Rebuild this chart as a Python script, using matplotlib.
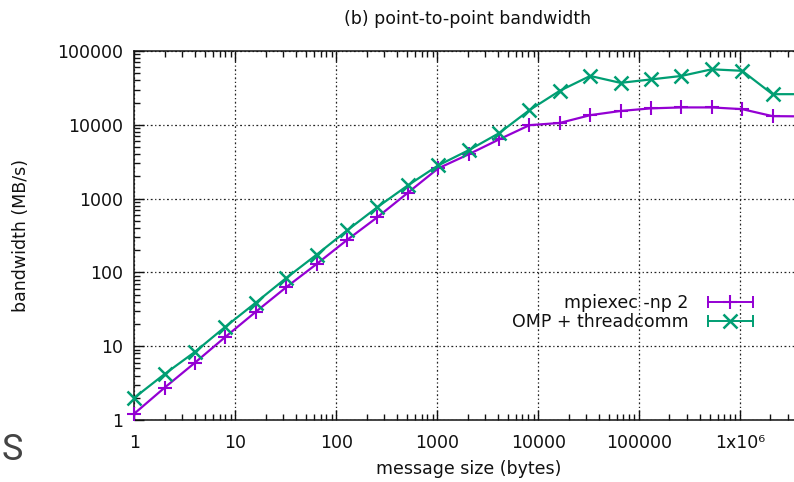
import numpy as np
import matplotlib
matplotlib.use('Agg')
import matplotlib.pyplot as plt
from matplotlib.lines import Line2D
from matplotlib.legend_handler import HandlerLine2D, HandlerTuple
from matplotlib.ticker import LogLocator, NullFormatter, FixedLocator, FixedFormatter

# message sizes in bytes (powers of two)
sizes = [1, 2, 4, 8, 16, 32, 64, 128, 256, 512, 1024, 2048, 4096, 8192, 16384,
         32768, 65536, 131072, 262144, 524288, 1048576, 2097152, 4194304]

# bandwidth in MB/s
mpi_bw = [1.22, 2.75, 6.0, 13.4, 29.3, 63, 130, 275, 560, 1200, 2570, 3980, 6330,
          9880, 10600, 13500, 15400, 16700, 17200, 17200, 16300, 13100, 13000]
omp_bw = [2.0, 4.2, 8.4, 18.4, 39, 84, 174, 370, 767, 1510, 2820, 4520, 7690,
          15800, 28900, 45900, 37000, 41200, 45900, 56500, 53900, 26000, 26000]

x_ticks = [1, 10, 100, 1000, 10000, 100000, 1e6, 1e7]
x_tick_labels = ['1', '10', '100', '1000', '10000', '100000', '1x10⁶', '']
y_ticks = [1, 10, 100, 1000, 10000, 100000]
y_tick_labels = ['1', '10', '100', '1000', '10000', '100000']

purple = '#9400d3'
green = '#009e73'
fs = 12.5

W, H = 794, 482
fig = plt.figure(figsize=(W / 100, H / 100), dpi=100)
# plot area runs past the right edge of the picture (cropped gnuplot output)
ax = fig.add_axes([134.3 / W, (H - 420) / H, (841 - 134.3) / W, 369 / H])

ax.plot(sizes, mpi_bw, color=purple, lw=1.6, marker='+', ms=10, mew=1.5,
        clip_on=False, zorder=3)
ax.plot(sizes, omp_bw, color=green, lw=1.6, marker='x', ms=10, mew=1.8,
        clip_on=False, zorder=4)

ax.set_xscale('log')
ax.set_yscale('log')
ax.set_xlim(1, 1e7)
ax.set_ylim(1, 1e5)

ax.xaxis.set_major_locator(FixedLocator(x_ticks))
ax.xaxis.set_major_formatter(FixedFormatter(x_tick_labels))
ax.yaxis.set_major_locator(FixedLocator(y_ticks))
ax.yaxis.set_major_formatter(FixedFormatter(y_tick_labels))
ax.xaxis.set_minor_locator(LogLocator(base=10, subs=np.arange(2, 10), numticks=100))
ax.yaxis.set_minor_locator(LogLocator(base=10, subs=np.arange(2, 10), numticks=100))
ax.xaxis.set_minor_formatter(NullFormatter())
ax.yaxis.set_minor_formatter(NullFormatter())

ax.tick_params(which='both', direction='in', top=True, right=False, width=1.0,
               color='#111')
ax.tick_params(which='major', length=7, labelsize=fs, labelcolor='#111')
ax.tick_params(which='minor', length=4)
ax.tick_params(axis='x', which='major', pad=10)
ax.tick_params(axis='y', which='major', pad=8)

ax.grid(True, which='major', color='#222', lw=0.9, linestyle=(0, (1.5, 2, 1, 2)))
ax.set_axisbelow(True)
for s in ['left', 'bottom', 'top']:
    ax.spines[s].set_linewidth(1.1)
    ax.spines[s].set_color('#111')
ax.spines['right'].set_visible(False)

fig.text(468 / W, 1 - 19 / H, '(b) point-to-point bandwidth', ha='center', va='center',
         fontsize=fs, color='#111')
fig.text(469 / W, 1 - 469 / H, 'message size (bytes)', ha='center', va='center',
         fontsize=fs, color='#111')
fig.text(21 / W, 1 - 235 / H, 'bandwidth (MB/s)', ha='center', va='center',
         rotation=90, fontsize=fs, color='#111')
fig.text(2 / W, 1 - 450 / H, 'S', ha='left', va='center', fontsize=26,
         color='#444', family='Roboto')

# legend in gnuplot style: line with end caps and the point in the middle
handles = []
hmap = {}
for c, m, mew in [(purple, '+', 1.5), (green, 'x', 1.8)]:
    cap = Line2D([], [], color=c, lw=1.4, marker='|', ms=8, mew=1.4)
    pt = Line2D([], [], color=c, lw=0, marker=m, ms=10, mew=mew)
    hmap[cap] = HandlerLine2D(numpoints=2)
    hmap[pt] = HandlerLine2D(numpoints=1)
    handles.append((cap, pt))
hmap[tuple] = HandlerTuple(ndivide=1)
ax.legend(handles, ['mpiexec -np 2', 'OMP + threadcomm'], handler_map=hmap,
          loc='center right', bbox_to_anchor=(758 / W, 1 - 312.5 / H),
          bbox_transform=fig.transFigure, frameon=False, markerfirst=False,
          fontsize=fs, handlelength=3.2, handletextpad=0.8, labelspacing=0.1,
          borderpad=0, borderaxespad=0, labelcolor='#111')

fig.savefig('out.png', dpi=100)
